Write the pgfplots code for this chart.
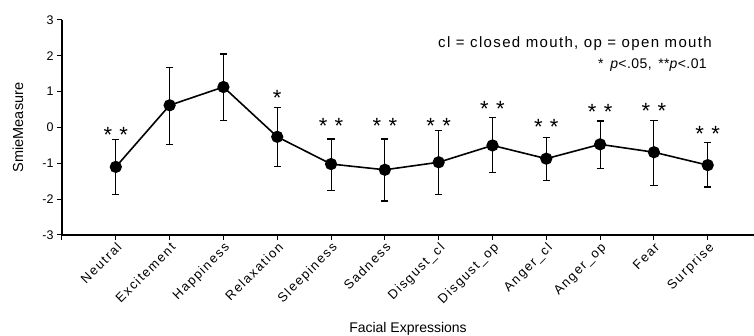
\documentclass[border=0pt]{standalone}
\usepackage{fontspec}
\setmainfont{Liberation Sans}
\usepackage{pgfplots}
\pgfplotsset{compat=1.18}
\usepackage{pgfplotstable}
\newcommand{\dstar}{*\hspace{7.4pt}*}
\newcommand{\sstar}{*}

% x = position, y = mean, ep/em = error plus/minus
\pgfplotstableread{
x y ep em
1 -1.10 0.76 0.77
2 0.62 1.06 1.10
3 1.13 0.92 0.94
4 -0.26 0.82 0.84
5 -1.02 0.70 0.74
6 -1.18 0.86 0.87
7 -0.97 0.88 0.89
8 -0.50 0.77 0.76
9 -0.87 0.59 0.62
10 -0.47 0.65 0.68
11 -0.69 0.88 0.92
12 -1.05 0.62 0.61
}\datatable

% significance markers (centre height of the asterisks)
\pgfplotstableread{
x y lab
1 -0.07 \dstar
4 0.95 \sstar
5 0.16 \dstar
6 0.18 \dstar
7 0.18 \dstar
8 0.65 \dstar
9 0.14 \dstar
10 0.56 \dstar
11 0.60 \dstar
12 -0.06 \dstar
}\startable

\begin{document}
\begin{tikzpicture}
\begin{axis}[
  scale only axis,
  width=692pt, height=215pt,
  xmin=0, xmax=12.86,
  ymin=-3, ymax=3,
  axis lines=left,
  axis line style={-, line width=1.2pt, black},
  tick align=outside,
  major tick length=5pt,
  tick style={black, line width=1pt},
  xtick={0,1,...,12},
  xticklabels={,Neutral,Excitement,Happiness,Relaxation,Sleepiness,Sadness,Disgust\_cl,Disgust\_op,Anger\_cl,Anger\_op,Fear,Surprise},
  xticklabel style={rotate=45, anchor=north east, inner sep=1pt, font=\fontsize{13}{15}\selectfont\addfontfeature{LetterSpace=12}},
  ytick={-3,-2,...,3},
  /pgf/number format/assume math mode=true,
  yticklabel style={font=\fontsize{12.5}{15}\selectfont},
  xlabel={Facial Expressions},
  ylabel={SmieMeasure},
  every axis x label/.style={at={(axis description cs:0.5,-0.4558)}, anchor=base, font=\fontsize{14}{16}\selectfont},
  every axis y label/.style={at={(axis description cs:-0.0636,0.5)}, anchor=center, rotate=90, font=\fontsize{14.5}{16}\selectfont},
  clip=false,
]
\addplot[black, line width=1.6pt, mark=*, mark size=5.3pt, mark options={solid, fill=black},
  error bars/.cd, y dir=both, y explicit,
  error bar style={line width=1.1pt, black},
  error mark options={rotate=90, mark size=3.6pt, line width=1.1pt, black}]
  table[x=x, y=y, y error plus=ep, y error minus=em] {\datatable};
\addplot[only marks, mark=none, nodes near coords, point meta=explicit symbolic,
  every node near coord/.append style={anchor=base, yshift=-12.2pt, inner sep=0pt, font=\fontsize{22}{24}\selectfont}]
  table[x=x, y=y, meta=lab] {\startable};
\node[anchor=base east, inner sep=0pt, font=\fontsize{15}{18}\selectfont\addfontfeature{LetterSpace=9}] at (axis description cs:0.9393,0.8698) {cl = closed mouth, op = open mouth};
\node[anchor=base east, inner sep=0pt, font=\fontsize{14}{17}\selectfont\addfontfeature{LetterSpace=3}] at (axis description cs:0.932,0.7767) {*\, \textit{p}<.05,\, **\textit{p}<.01};
\end{axis}
\pgfresetboundingbox
\path[use as bounding box] (-62pt,-101pt) rectangle (692pt,235pt);
\end{tikzpicture}
\end{document}
